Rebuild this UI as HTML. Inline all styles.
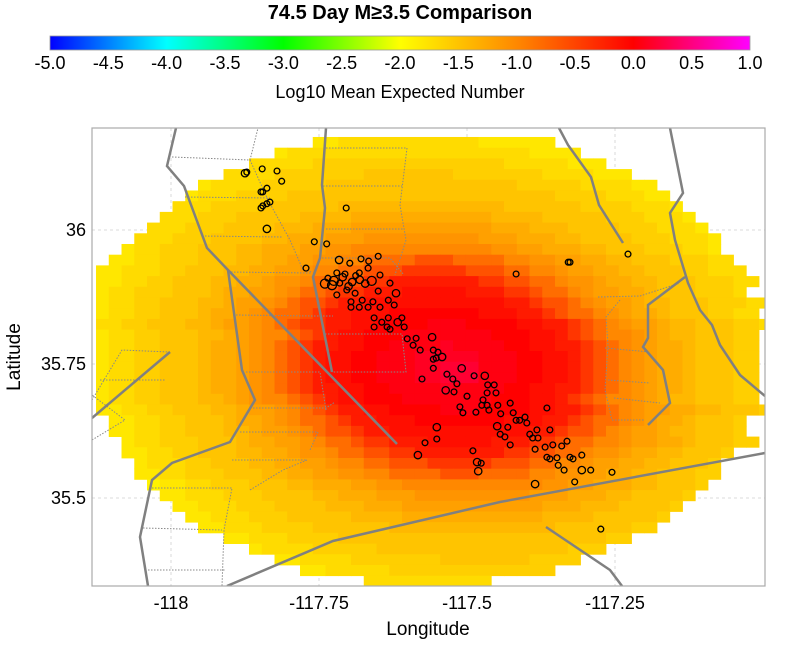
<!DOCTYPE html>
<html><head><meta charset="utf-8"><title>74.5 Day Comparison</title>
<style>
html,body{margin:0;padding:0;background:#fff;}
svg{display:block;font-family:"Liberation Sans",Arial,sans-serif;}
</style></head>
<body>
<svg id="chart" width="800" height="649" viewBox="0 0 800 649">
  <defs>
    <linearGradient id="cbar" x1="0" x2="1" y1="0" y2="0">
      <stop offset="0" stop-color="#0000ff"/>
      <stop offset="0.1667" stop-color="#00ffff"/>
      <stop offset="0.3333" stop-color="#00ff00"/>
      <stop offset="0.5" stop-color="#ffff00"/>
      <stop offset="0.6667" stop-color="#ff8800"/>
      <stop offset="0.8333" stop-color="#ff0000"/>
      <stop offset="1" stop-color="#ff00ff"/>
    </linearGradient>
    <clipPath id="plotclip"><rect x="92" y="128" width="673" height="458"/></clipPath>
  </defs>
  <text x="400" y="19" text-anchor="middle" font-size="20" font-weight="bold">74.5 Day M≥3.5 Comparison</text>
  <rect x="50" y="36" width="700" height="14" fill="url(#cbar)" stroke="#999" stroke-width="0.8"/>
  <g id="cbticks"></g>
  <text x="400" y="98" text-anchor="middle" font-size="18">Log10 Mean Expected Number</text>

  <rect x="92" y="128" width="673" height="458" fill="#fff"/>
  <g id="grid"></g>
  <g id="heat" clip-path="url(#plotclip)"></g>
  <g clip-path="url(#plotclip)" fill="none" stroke="#8a8a8a">
    <g stroke-width="1" stroke-dasharray="1.5,1.5" stroke="#888">
      <polyline points="172,157 250,160 258,128"/>
      <polyline points="250,160 268,200 290,240 303,270 312,272"/>
      <polyline points="185,197 270,198"/>
      <polyline points="202,236 283,237"/>
      <polyline points="228,272 312,273"/>
      <polyline points="236,315 313,316 333,316"/>
      <polyline points="326,148 407,148 400,205 406,240 395,275"/>
      <polyline points="323,186 402,186"/>
      <polyline points="326,229 403,229"/>
      <polyline points="322,258 390,258 404,275"/>
      <polyline points="325,334 402,334 406,372 332,372"/>
      <polyline points="246,372 320,372 326,410"/>
      <polyline points="250,408 326,408 335,402"/>
      <polyline points="240,432 318,432 310,450"/>
      <polyline points="232,460 307,460 283,470 250,490"/>
      <polyline points="152,488 232,488 224,530 222,586"/>
      <polyline points="143,528 222,530"/>
      <polyline points="148,570 226,570"/>
      <polyline points="620,300 606,317 608,345 605,390 612,420 645,420"/>
      <polyline points="605,348 650,352"/>
      <polyline points="608,380 650,383"/>
      <polyline points="614,398 660,403"/>
      <polyline points="598,297 640,296 680,283"/>
      <polyline points="92,400 122,350 170,352"/>
      <polyline points="92,440 125,420 92,395"/>
      <polyline points="100,380 165,380"/>
    </g>
    <g stroke-width="2.5" stroke="#808080">
      <polyline points="176,128 167,166 184,186 207,248 228,270 397,444"/>
      <polyline points="228,270 242,370 255,400 230,442 172,463 152,480 140,537 148,586"/>
      <polyline points="326,128 322,185 325,208 320,258 313,277 332,372"/>
      <polyline points="227,586 333,541 500,502 765,453"/>
      <polyline points="546,527 610,570 622,586"/>
      <polyline points="559,128 568,145 591,177 599,205 623,243"/>
      <polyline points="670,128 683,193 670,213 675,240 688,283 700,310 712,325 720,345 740,375 765,396"/>
      <polyline points="685,277 648,305 648,338 643,347 663,370 670,403 648,425"/>
      <polyline points="170,352 92,418"/>
    </g>
  </g>
  <g id="quakes" clip-path="url(#plotclip)"></g>
  <rect x="92" y="128" width="673" height="458" fill="none" stroke="#aaa" stroke-width="1.2"/>
  <g id="xticks"></g>
  <g id="yticks"></g>
  <text x="428" y="635" text-anchor="middle" font-size="19">Longitude</text>
  <text x="0" y="0" transform="translate(20,357) rotate(-90)" text-anchor="middle" font-size="19">Latitude</text>
</svg>
<script>
// ---- data ----
const cbTickLabels = ["-5.0","-4.5","-4.0","-3.5","-3.0","-2.5","-2.0","-1.5","-1.0","-0.5","0.0","0.5","1.0"];
const cbTickValues = [-5,-4.5,-4,-3.5,-3,-2.5,-2,-1.5,-1,-0.5,0,0.5,1];
const xTickValues = [-118,-117.75,-117.5,-117.25];
const xTickLabels = ["-118","-117.75","-117.5","-117.25"];
const yTickValues = [36,35.75,35.5];
const yTickLabels = ["36","35.75","35.5"];
// heatmap grid origin / spacing (degrees)
const gridLon0 = -118.1482, gridLat0 = 36.1935, dLon = 0.021537, dLat = 0.019963;
// level code: value = -2.0 + 0.1*k, k = index in this alphabet
const levelCodes = "0123456789abcdefghijklmnop";
// rows: [rowIndex, startCol, levels]
const heatRows = [
[1,18,"2233333333333222222"],
[2,15,"233333333333333333332222"],
[3,13,"3333344444444444444433333222"],
[4,11,"33334444444555555544444443333222"],
[5,9,"233334444455555555555555544444333322"],
[6,8,"23334444555555555555555555555444433322"],
[7,7,"3334444555555666666666666655555544443332"],
[8,6,"333444555556666777777777776666555554443332"],
[9,5,"33344455556667778888888888877766655554443332"],
[10,4,"3334445555667778889999999998887776655554443332"],
[11,3,"233444555667778899aaaaaaaaaaa99887776655544433 2".replace(" ","")],
[12,2,"223344455566778899aacccceeecccc aa99887766555444 33".replace(/ /g,"")],
[13,1,"22333445556677889aacceeegggggeeeccaa9887766555 44333".replace(/ /g,"")],
[14,1,"2233445556677899acceeggiiiiiiiggeecca998776655544 433".replace(/ /g,"")],
[15,1,"2334445556778 89accegg iiijjjjjiiigge cca98877 6555 4443".replace(/ /g,"")],
[16,1,"2334455566788 9aceegii jjjjjjjjjjj iigeeca98876655544433".replace(/ /g,"")],
[17,1,"233445556778 9accegiijjjkkkkkkkjjjiigecca98776555 4433".replace(/ /g,"")],
[18,1,"3344555667889aceggiijjkkkklllkkkkjjiigeca98876655544 3".replace(/ /g,"")],
[19,1,"23344555667 89aaceg ijjkkklllllllkkkjjig ecaa98766555 44".replace(/ /g,"")],
[20,1,"233445556778 9acegiijjkkllllmllllkkjjiigeca987765554 4".replace(/ /g,"")],
[21,1,"2334455567789acegijjkklllmmmmmlllkkjjigeca98776555 44".replace(/ /g,"")],
[22,1,"2334455567789acegijjkklllmmnnnlllkkjjigeca98776555 44".replace(/ /g,"")],
[23,1,"2334455567789acegijjkklllmmnnnlllkkjjigeca98776555 44".replace(/ /g,"")],
[24,1,"233445556778 9acegiijjkkllllmllllkkjjiigeca987765554 4".replace(/ /g,"")],
[25,1,"23344555667 89aaceg ijjkkklllllllkkkjjig ecaa98766555 44".replace(/ /g,"")],
[26,1,"22334455566788 9acegiijjkkkklllkkkkjjiigeca98877 665554".replace(/ /g,"")],
[27,2,"22334455567789acc egiijjjkkkkkkkjjjiigecca98776555 4".replace(/ /g,"")],
[28,2,"2233445556678 89aceegiijjjjjjjjjjjiigeeca98876655 54".replace(/ /g,"")],
[29,3,"23344455567788 9accegg iiijjjjjiiiggeccaa98877 655544".replace(/ /g,"")],
[30,3,"2233445556677 899acceeggiiiiiiiggeecca99877 665554".replace(/ /g,"")],
[31,4,"23334455566778 89aacceeegggggeeeccaa9887766 5554".replace(/ /g,"")],
[32,4,"2233444555667788 99aacccceeecccc aa998877 6655544".replace(/ /g,"")],
[33,5,"122334445556677788 99aaaaaaaaaaa998877766 5554".replace(/ /g,"")],
[34,6,"22333444555566777888999999999888777665555 4".replace(/ /g,"")],
[35,7,"2233344455556667778888888888877766655554"],
[36,8,"22333444555556666777777777776666555554"],
[37,9,"223334444555555666666666666655555544"],
[38,11,"22333444455555555555555555555544"],
[39,13,"2333344444555555555555555444"],
[40,15,"223333444444455555554444"],
[41,17,"22333334444444444444"],
[42,22,"3333333333"]
];
// earthquake catalogue (from picture)
const quakeLon = [-117.875,-117.872,-117.846,-117.821,-117.813,-117.838,-117.848,-117.845,-117.845,-117.838,-117.833,-117.848,-117.838,-117.704,-117.758,-117.737,-117.772,
-117.650,-117.716,-117.698,-117.679,-117.666,-117.735,-117.720,-117.706,-117.682,-117.667,-117.647,-117.630,-117.620,-117.728,-117.715,-117.694,-117.681,-117.661,-117.703,-117.689,-117.650,-117.720,-117.696,-117.677,-117.659,-117.647,-117.633,-117.623,-117.696,-117.682,-117.667,-117.657,-117.644,-117.633,-117.617,-117.610,-117.657,-117.635,-117.630,-117.606,
-117.725,-117.710,-117.700,-117.688,-117.672,-117.740,
-117.601,-117.586,-117.591,-117.579,-117.559,-117.557,-117.549,-117.552,-117.542,-117.557,-117.509,-117.534,-117.524,-117.517,-117.488,-117.470,-117.465,-117.454,-117.536,-117.522,-117.500,-117.466,-117.451,-117.473,-117.475,-117.466,-117.512,-117.507,-117.485,-117.463,-117.448,-117.443,-117.427,-117.422,-117.417,-117.411,-117.402,-117.399,-117.449,-117.431,-117.444,-117.394,-117.382,-117.389,-117.380,-117.436,-117.427,-117.365,-117.360,-117.355,-117.368,-117.331,-117.340,-117.385,-117.365,-117.348,-117.360,-117.326,-117.321,-117.306,-117.346,-117.336,-117.306,-117.291,-117.255,-117.318,-117.385,-117.551,-117.551,-117.571,-117.583,-117.490,-117.483,-117.476,-117.481,-117.576,-117.557,
-117.329,-117.326,-117.228,-117.417,-117.274];
const quakeLat = [36.106,36.108,36.114,36.110,36.091,36.078,36.071,36.071,36.045,36.049,36.052,36.041,36.002,36.041,35.978,35.974,35.929,
35.951,35.944,35.938,35.946,35.942,35.910,35.920,35.918,35.920,35.929,35.916,35.901,35.882,35.897,35.901,35.903,35.907,35.905,35.888,35.882,35.886,35.879,35.866,35.869,35.866,35.856,35.869,35.860,35.856,35.856,35.856,35.836,35.828,35.836,35.828,35.836,35.819,35.819,35.815,35.819,
35.905,35.912,35.895,35.915,35.900,35.900,
35.797,35.798,35.785,35.776,35.800,35.776,35.772,35.761,35.763,35.742,35.742,35.731,35.722,35.713,35.728,35.728,35.711,35.711,35.701,35.698,35.690,35.696,35.696,35.683,35.673,35.673,35.670,35.659,35.660,35.664,35.673,35.657,35.677,35.659,35.645,35.645,35.651,35.640,35.634,35.632,35.619,35.619,35.627,35.612,35.612,35.614,35.599,35.668,35.627,35.599,35.595,35.606,35.597,35.591,35.576,35.575,35.573,35.576,35.573,35.580,35.561,35.552,35.552,35.552,35.548,35.530,35.526,35.632,35.610,35.603,35.580,35.588,35.567,35.565,35.550,35.722,35.759,
35.940,35.940,35.955,35.918,35.442];
const quakeMag = [4.0,3.5,3.5,3.5,3.5,3.5,3.5,3.5,3.5,3.5,3.5,3.5,4.0,3.5,3.5,3.5,3.5,
3.5,4.0,3.5,3.5,3.5,3.5,3.5,3.5,3.5,3.5,3.5,3.5,4.0,4.5,3.5,4.0,4.0,4.5,3.5,3.5,3.5,3.5,3.5,3.5,3.5,3.5,3.5,3.5,3.5,3.5,3.5,3.5,3.5,3.5,4.0,3.5,3.5,3.5,3.5,3.5,
4.5,4.0,4.0,3.5,4.0,4.5,
3.5,3.5,3.5,3.5,4.0,3.5,3.5,3.5,4.0,3.5,4.0,3.5,3.5,3.5,3.5,4.0,3.5,3.5,4.0,3.5,3.5,3.5,3.5,3.5,3.5,3.5,3.5,3.5,3.5,3.5,3.5,3.5,3.5,3.5,3.5,3.5,3.5,3.5,4.0,3.5,3.5,3.5,3.5,3.5,3.5,3.5,3.5,3.5,3.5,3.5,3.5,3.5,3.5,3.5,3.5,3.5,3.5,3.5,3.5,3.5,3.5,3.5,4.0,3.5,3.5,3.5,4.0,4.0,3.5,3.5,4.0,3.5,4.0,3.5,4.0,3.5,3.5,
3.5,3.5,3.5,3.5,3.5];

// ---- scales ----
const NS = "http://www.w3.org/2000/svg";
function xScale(lon){ return 171 + (lon + 118) * 592; }
function yScale(lat){ return 230 - (lat - 36) * 536; }
function cbScale(v){ return 50 + (v + 5) / 6 * 700; }
function colorOf(v){
  let g, b;
  if (v <= -1) { g = 255 - (v + 2) * 119; b = 0; }
  else if (v <= 0) { g = 136 * (-v); b = 0; }
  else { g = 0; b = Math.min(255, v * 170); }
  return "rgb(255," + Math.round(Math.max(0, Math.min(255, g))) + "," + Math.round(b) + ")";
}
function mk(tag, attrs){ const e = document.createElementNS(NS, tag); for (const k in attrs) e.setAttribute(k, attrs[k]); return e; }

// colorbar ticks
const cbG = document.getElementById("cbticks");
cbTickValues.forEach((v, i) => {
  const t = mk("text", {x: cbScale(v), y: 69, "text-anchor": "middle", "font-size": 18});
  
  
  t.textContent = cbTickLabels[i];
  cbG.appendChild(t);
});

// grid + axis ticks
const gridG = document.getElementById("grid");
const xtG = document.getElementById("xticks");
const ytG = document.getElementById("yticks");
xTickValues.forEach((v, i) => {
  const x = xScale(v);
  const l = mk("line", {x1: x, x2: x, y1: 128, y2: 586, stroke: "#d0d0d0", "stroke-width": 0.8, "stroke-dasharray": "3,3"});
  
  
  gridG.appendChild(l);
  const t = mk("text", {x: x, y: 609, "text-anchor": "middle", "font-size": 18});
  
  
  t.textContent = xTickLabels[i];
  xtG.appendChild(t);
});
yTickValues.forEach((v, i) => {
  const y = yScale(v);
  const l = mk("line", {x1: 92, x2: 765, y1: y, y2: y, stroke: "#d0d0d0", "stroke-width": 0.8, "stroke-dasharray": "3,3"});
  
  
  gridG.appendChild(l);
  const t = mk("text", {x: 86, y: y + 6, "text-anchor": "end", "font-size": 18});
  
  
  t.textContent = yTickLabels[i];
  ytG.appendChild(t);
});

// heatmap
const heatG = document.getElementById("heat");
heatRows.forEach(row => {
  const ri = row[0], c0 = row[1], s = row[2];
  const latTop = gridLat0 - ri * dLat, latBot = latTop - dLat;
  const y0 = yScale(latTop), y1 = yScale(latBot);
  for (let k = 0; k < s.length; k++) {
    const lev = levelCodes.indexOf(s[k]);
    if (lev < 0) continue;
    const v = -2 + 0.1 * lev;
    const lonL = gridLon0 + (c0 + k) * dLon;
    const x0 = xScale(lonL), x1 = xScale(lonL + dLon);
    const r = mk("rect", {x: x0.toFixed(2), y: y0.toFixed(2), width: (x1 - x0 + 0.4).toFixed(2), height: (y1 - y0 + 0.4).toFixed(2), fill: colorOf(v)});
    
    
    heatG.appendChild(r);
  }
});

// earthquakes
const qG = document.getElementById("quakes");
quakeLon.forEach((lon, i) => {
  const c = mk("circle", {cx: xScale(lon).toFixed(1), cy: yScale(quakeLat[i]).toFixed(1), r: (2.9 + (quakeMag[i] - 3.5) * 1.6).toFixed(2), fill: "none", stroke: "#000", "stroke-width": 1.3});
  
  
  qG.appendChild(c);
});
</script>
</body></html>
